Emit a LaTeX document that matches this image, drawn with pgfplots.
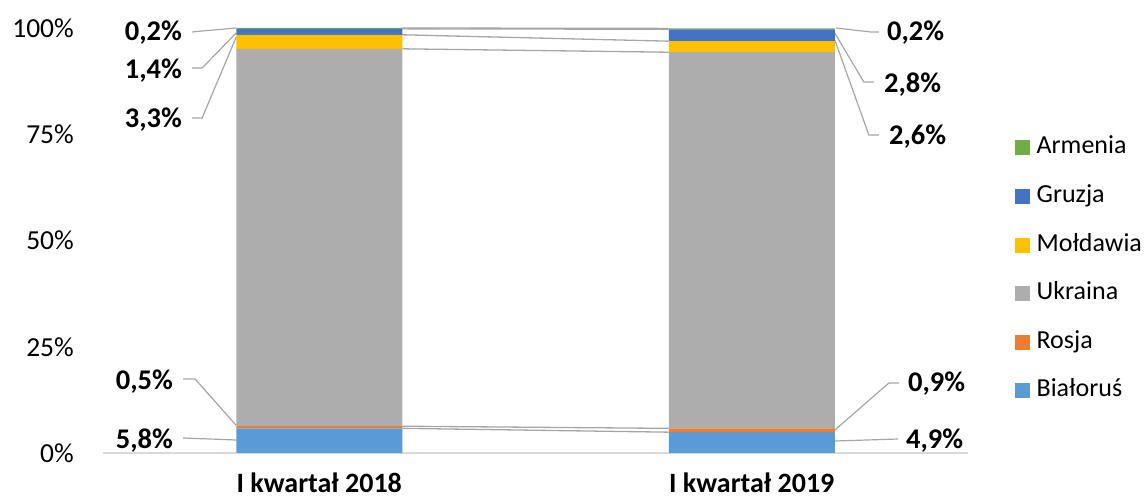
\documentclass[border=0pt]{standalone}
\usepackage{pgfplots}
\pgfplotsset{compat=1.18}
\usepackage{fontspec}
\setmainfont{Carlito}
\definecolor{cBia}{HTML}{5B9BD5}
\definecolor{cRos}{HTML}{ED7D31}
\definecolor{cUkr}{HTML}{ADADAD}
\definecolor{cMol}{HTML}{FFC000}
\definecolor{cGru}{HTML}{4472C4}
\definecolor{cArm}{HTML}{70AD47}
\definecolor{cLead}{HTML}{A6A6A6}
\definecolor{cAxis}{HTML}{D9D9D9}
\pgfplotsset{
  base/.style={scale only axis, width=865pt, height=425pt, xmin=-0.5, xmax=1.5,
    ymin=0, ymax=100, clip=false, at={(0,0)}, anchor=south west},
  sq/.style={legend image code/.code={\fill[##1,draw=none] (0pt,-7.5pt) rectangle (15pt,7.5pt);}},
}
\newcommand{\lab}{\bfseries\fontsize{28.5}{30}\selectfont}
\begin{document}
\begin{tikzpicture}
% series lines (cumulative tops of segments)
\begin{axis}[base, hide axis]
\addplot[cLead, line width=1.3pt] coordinates {(0.192,5.8) (0.808,4.9)};
\addplot[cLead, line width=1.3pt] coordinates {(0.192,6.3) (0.808,5.8)};
\addplot[cLead, line width=1.3pt] coordinates {(0.192,95.1) (0.808,94.3)};
\addplot[cLead, line width=1.3pt] coordinates {(0.192,98.4) (0.808,96.9)};
\addplot[cLead, line width=1.3pt] coordinates {(0.192,99.8) (0.808,99.7)};
\addplot[cLead, line width=1.3pt] coordinates {(0.192,100) (0.808,99.9)};
\end{axis}
\begin{axis}[base,
  ybar stacked, bar width=166pt,
  axis x line=bottom, axis y line=left,
  x axis line style={draw=cAxis, line width=1.5pt, -},
  y axis line style={draw=none},
  tick style={draw=none}, major tick length=0pt,
  xtick={0,1}, xticklabels={I kwartał 2018, I kwartał 2019},
  xticklabel style={font=\bfseries\fontsize{28}{30}\selectfont, anchor=base, inner sep=0pt, yshift=-40pt},
  ytick={0,25,50,75,100}, yticklabels={0\%,25\%,50\%,75\%,100\%},
  yticklabel style={font=\fontsize{27.5}{30}\selectfont, anchor=east, inner sep=0pt, xshift=-29pt},
  reverse legend,
  legend cell align=left,
  legend style={draw=none, fill=none, at={(rel axis cs:1.054,0.432)}, anchor=west,
    font=\fontsize{26}{28}\selectfont, inner sep=0pt, row sep=24.6pt, column sep=6.7pt,
    nodes={inner sep=0pt, text height=18pt, text depth=6pt}},
]
\addplot[fill=cBia, draw=none, sq] coordinates {(0,5.8) (1,4.9)};
\addlegendentry{Białoruś}
\addplot[fill=cRos, draw=none, sq] coordinates {(0,0.5) (1,0.9)};
\addlegendentry{Rosja}
\addplot[fill=cUkr, draw=none, sq] coordinates {(0,88.8) (1,88.5)};
\addlegendentry{Ukraina}
\addplot[fill=cMol, draw=none, sq] coordinates {(0,3.3) (1,2.6)};
\addlegendentry{Mołdawia}
\addplot[fill=cGru, draw=none, sq] coordinates {(0,1.4) (1,2.8)};
\addlegendentry{Gruzja}
\addplot[fill=cArm, draw=none, sq] coordinates {(0,0.2) (1,0.2)};
\addlegendentry{Armenia}
% leader lines
\draw[cLead, line width=1.2pt] (axis cs:-0.294,99.06) -- (axis cs:-0.2708,99.29) -- (axis cs:-0.192,100);
\draw[cLead, line width=1.2pt] (axis cs:-0.294,90.59) -- (axis cs:-0.2708,90.59) -- (axis cs:-0.192,98.82);
\draw[cLead, line width=1.2pt] (axis cs:-0.294,78.82) -- (axis cs:-0.2708,78.82) -- (axis cs:-0.192,97.88);
\draw[cLead, line width=1.2pt] (axis cs:-0.3148,17.41) -- (axis cs:-0.287,17.41) -- (axis cs:-0.192,6.5);
\draw[cLead, line width=1.2pt] (axis cs:-0.3148,3.53) -- (axis cs:-0.192,3.06);
\draw[cLead, line width=1.2pt] (axis cs:1.1944,100) -- (axis cs:1.2755,99.06) -- (axis cs:1.294,99.06);
\draw[cLead, line width=1.2pt] (axis cs:1.192,98.8) -- (axis cs:1.2593,87.29) -- (axis cs:1.2824,87.29);
\draw[cLead, line width=1.2pt] (axis cs:1.192,97.2) -- (axis cs:1.2708,74.82) -- (axis cs:1.294,74.82);
\draw[cLead, line width=1.2pt] (axis cs:1.192,5.4) -- (axis cs:1.3171,16.47) -- (axis cs:1.3403,16.47);
\draw[cLead, line width=1.2pt] (axis cs:1.192,2.82) -- (axis cs:1.338,3.29);
% data labels
\node[font=\lab, anchor=base east, inner sep=0pt] at (axis cs:-0.3171,97.06) {0,2\%};
\node[font=\lab, anchor=base east, inner sep=0pt] at (axis cs:-0.3171,88.16) {1,4\%};
\node[font=\lab, anchor=base east, inner sep=0pt] at (axis cs:-0.3171,76.5) {3,3\%};
\node[font=\lab, anchor=base east, inner sep=0pt] at (axis cs:-0.338,15.0) {0,5\%};
\node[font=\lab, anchor=base east, inner sep=0pt] at (axis cs:-0.338,1.1) {5,8\%};
\node[font=\lab, anchor=base, inner sep=0pt] at (axis cs:0,48.9) {88,8\%};
\node[font=\lab, anchor=base, inner sep=0pt] at (axis cs:1,48.9) {88,5\%};
\node[font=\lab, anchor=base west, inner sep=0pt] at (axis cs:1.3125,97.0) {0,2\%};
\node[font=\lab, anchor=base west, inner sep=0pt] at (axis cs:1.3056,84.8) {2,8\%};
\node[font=\lab, anchor=base west, inner sep=0pt] at (axis cs:1.3171,72.5) {2,6\%};
\node[font=\lab, anchor=base west, inner sep=0pt] at (axis cs:1.3611,14.4) {0,9\%};
\node[font=\lab, anchor=base west, inner sep=0pt] at (axis cs:1.3565,1.1) {4,9\%};
\end{axis}
\pgfresetboundingbox
\path (-103pt,-47pt) rectangle (1043pt,453pt);
\end{tikzpicture}
\end{document}
